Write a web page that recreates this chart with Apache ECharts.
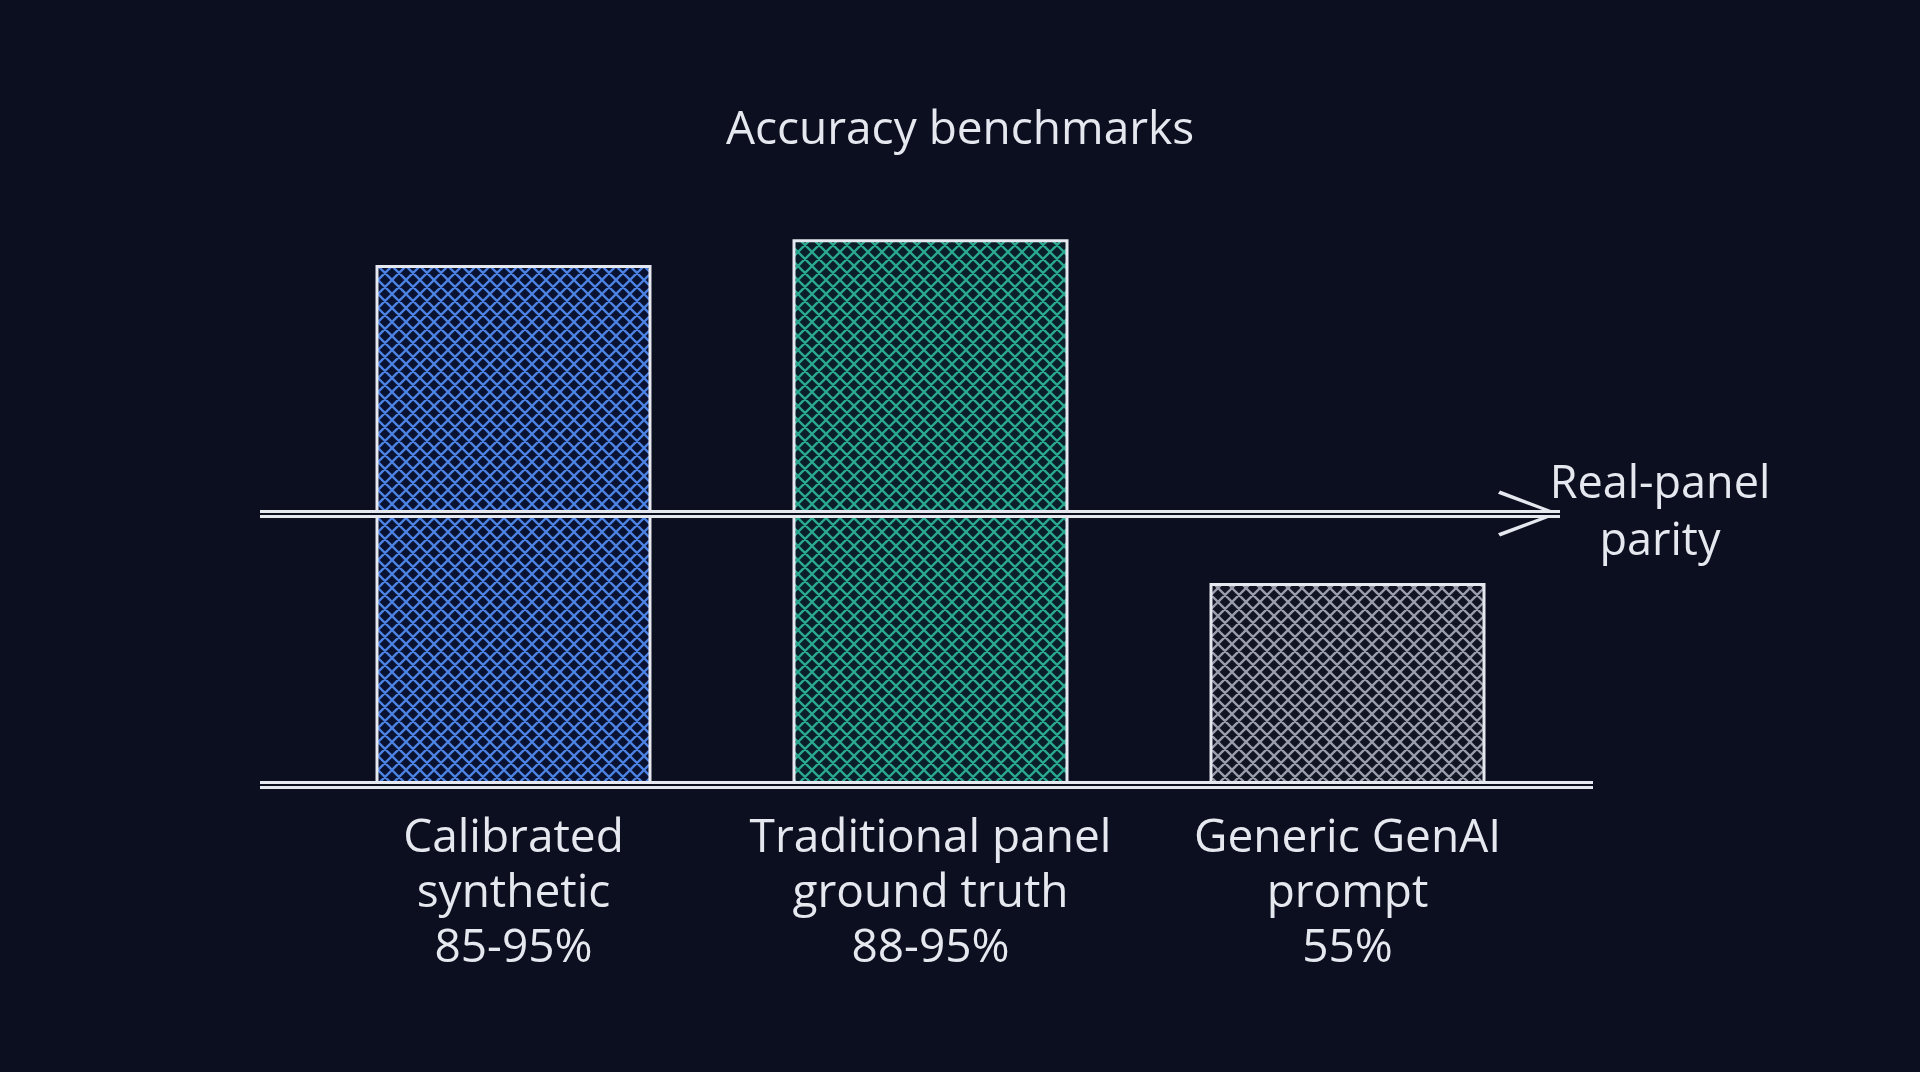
<!DOCTYPE html>
<html>
<head>
<meta charset="utf-8">
<script src="https://cdn.jsdelivr.net/npm/echarts@6/dist/echarts.min.js"></script>
<style>
html,body{margin:0;padding:0;background:#0b0f1f;}
#chart{width:1920px;height:1072px;}
</style>
</head>
<body>
<div id="chart"></div>
<script>
// ---- data ----
const titleText = 'Accuracy benchmarks';
const categories = ['Calibrated\nsynthetic', 'Traditional panel\nground truth', 'Generic GenAI\nprompt'];
const rangeLabels = ['85-95%', '88-95%', '55%'];
const barHeights = [90.6, 95.1, 35.2];
const parityLevel = 47.3;
const parityLabel = 'Real-panel\nparity';

// ---- styles ----
const BG = '#0b0f1f';
const INK = '#e6e8ef';
const FONT = 'Open Sans';
const hatchColors = [
  {line: '#4c82e2', bg: '#0a1232'},
  {line: '#2aa890', bg: '#0b1f2b'},
  {line: '#9a9dab', bg: '#101423'}
];

function hatch(lineColor, bg) {
  const s = 14;
  const c = document.createElement('canvas');
  c.width = s; c.height = s;
  const ctx = c.getContext('2d');
  ctx.fillStyle = bg;
  ctx.fillRect(0, 0, s, s);
  ctx.strokeStyle = lineColor;
  ctx.lineWidth = 2.3;
  ctx.beginPath();
  for (let k = -1; k <= 1; k++) {
    ctx.moveTo(k * s, 0); ctx.lineTo(k * s + s, s);
    ctx.moveTo(k * s, s); ctx.lineTo(k * s + s, 0);
  }
  ctx.stroke();
  return {image: c, repeat: 'repeat'};
}

// open chevron, tip at the centre of the symbol box
const chevron = 'path://M20.5 0 L20.6 0 L20.5 0.1 Z M20.5 60 L41 118 L38 120 L20.5 68 L3 120 L0 118 Z';

const chart = echarts.init(document.getElementById('chart'));
const option = {
  backgroundColor: BG,
  animation: false,
  title: {
    text: titleText,
    left: 'center',
    top: 99,
    textStyle: {color: INK, fontFamily: FONT, fontSize: 46, fontWeight: 'normal', lineHeight: 54}
  },
  grid: [
    {left: 305, right: 364, top: 211, bottom: 287},
    {left: 260, right: 360, top: 211, bottom: 287},
    {left: 260, right: 327, top: 211, bottom: 287}
  ],
  xAxis: [
    {
      type: 'category', gridIndex: 0, data: categories,
      axisLine: {show: false}, axisTick: {show: false},
      axisLabel: {
        margin: 26, color: INK, fontFamily: FONT, fontSize: 46, lineHeight: 55, interval: 0,
        formatter: (v, i) => v + '\n' + rangeLabels[i]
      }
    },
    {type: 'value', gridIndex: 1, min: 0, max: 1, show: false},
    {type: 'value', gridIndex: 2, min: 0, max: 1, show: false}
  ],
  yAxis: [
    {type: 'value', gridIndex: 0, min: 0, max: 100, show: false},
    {type: 'value', gridIndex: 1, min: 0, max: 100, show: false},
    {type: 'value', gridIndex: 2, min: 0, max: 100, show: false}
  ],
  series: [
    {
      type: 'bar', xAxisIndex: 0, yAxisIndex: 0, barWidth: 276, z: 2,
      data: barHeights.map((v, i) => ({
        value: v,
        itemStyle: {color: hatch(hatchColors[i].line, hatchColors[i].bg), borderColor: INK, borderWidth: 3}
      }))
    },
    {
      type: 'line', xAxisIndex: 1, yAxisIndex: 1, data: [], z: 5, silent: true,
      markLine: {
        silent: true, animation: false,
        symbol: ['none', chevron], symbolSize: [46, 124],
        lineStyle: {color: INK, width: 8, type: 'solid'},
        label: {
          show: true, position: 'end', distance: 100, align: 'center',
          padding: [0, 0, 16, 0],
          formatter: parityLabel, color: INK, fontFamily: FONT, fontSize: 45, lineHeight: 57
        },
        data: [{yAxis: parityLevel}]
      }
    },
    {
      type: 'line', xAxisIndex: 1, yAxisIndex: 1, data: [], z: 6, silent: true,
      markLine: {
        silent: true, animation: false, symbol: ['none', 'none'],
        lineStyle: {color: BG, width: 2, type: 'solid'},
        label: {show: false},
        data: [{yAxis: parityLevel}]
      }
    },
    {
      type: 'line', xAxisIndex: 2, yAxisIndex: 2, data: [], z: 5, silent: true,
      markLine: {
        silent: true, animation: false, symbol: ['none', 'none'],
        lineStyle: {color: INK, width: 8, type: 'solid'},
        label: {show: false},
        data: [{yAxis: 0}]
      }
    },
    {
      type: 'line', xAxisIndex: 2, yAxisIndex: 2, data: [], z: 6, silent: true,
      markLine: {
        silent: true, animation: false, symbol: ['none', 'none'],
        lineStyle: {color: BG, width: 2, type: 'solid'},
        label: {show: false},
        data: [{yAxis: 0}]
      }
    }
  ]
};
chart.setOption(option);
</script>
</body>
</html>
